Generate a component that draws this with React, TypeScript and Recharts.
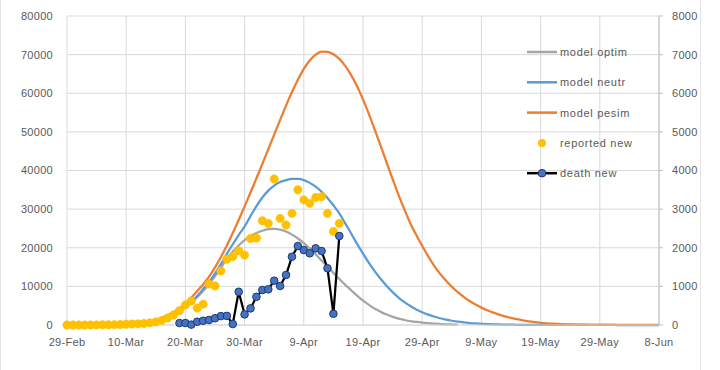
import React from 'react';
import {
  ComposedChart,
  Line,
  XAxis,
  YAxis,
  CartesianGrid
} from 'recharts';

// x axis: days after 29-Feb
const tickDays = [0, 10, 20, 30, 40, 50, 60, 70, 80, 90, 100];
const tickLabels = ['29-Feb', '10-Mar', '20-Mar', '30-Mar', '9-Apr', '19-Apr', '29-Apr', '9-May', '19-May', '29-May', '8-Jun'];

// model curves, one value per day starting 29-Feb
const modelOptim = [
  10, 15, 20, 30, 40, 55, 75, 100, 140, 190, 260, 350, 480, 650, 880,
  1200, 1600, 2100, 2800, 3600, 4600, 5800, 7200, 8800, 10600, 12600, 14800, 17200, 19000, 20600,
  22000, 23000, 23800, 24400, 24800, 24900, 24700, 24200, 23400, 22400, 21200, 19800, 18300, 16700, 15100,
  13500, 11900, 10400, 9000, 7600, 6300, 5200, 4200, 3400, 2700, 2100, 1650, 1300, 1000, 780,
  600, 460, 350, 260, 190, 140, 100
];

const modelNeutr = [
  10, 15, 20, 30, 40, 55, 75, 100, 140, 190, 260, 350, 480, 650, 880,
  1200, 1600, 2100, 2800, 3600, 4700, 6000, 7500, 9300, 11100, 13300, 15800, 18400, 20900, 23300,
  25500, 28200, 30800, 33000, 34800, 36100, 37000, 37500, 37800, 37800, 37500, 36800, 35800, 34500, 32900,
  31000, 28900, 26300, 23700, 21000, 18500, 16100, 13900, 11900, 10100, 8500, 7100, 5900, 4900, 4000,
  3300, 2700, 2200, 1750, 1400, 1100, 850, 660, 510, 390, 300, 230, 175, 130, 100,
  75, 55, 40, 30, 22, 16, 12, 9, 7, 5, 4, 3, 2, 2, 1,
  1, 1, 1, 0, 0, 0, 0, 0, 0, 0, 0
];

const modelPesim = [
  10, 15, 20, 30, 40, 55, 75, 100, 140, 190, 260, 350, 490, 680, 950,
  1300, 1800, 2500, 3300, 4300, 5600, 7100, 8800, 10500, 12500, 14900, 17600, 20600, 23800, 27200,
  30700, 34300, 38000, 41700, 45500, 49300, 53100, 56800, 60300, 63500, 66300, 68500, 70000, 70800, 70700,
  70100, 68900, 67100, 64700, 61800, 58400, 54600, 50500, 46300, 42000, 37800, 33700, 29900, 26300, 23300,
  20500, 17800, 15400, 13300, 11500, 9900, 8500, 7300, 6200, 5300, 4500, 3800, 3200, 2700, 2250,
  1850, 1500, 1200, 950, 750, 580, 450, 350, 270, 200, 150, 110, 80, 60, 45,
  35, 25, 20, 15, 12, 10, 8, 6, 5, 4, 3
];

// reported new cases, 29-Feb .. 15-Apr
const reportedNew = [
  2, 5, 5, 10, 20, 30, 50, 60, 100, 120, 200, 250, 300, 400, 550,
  800, 1200, 1800, 2600, 3700, 5200, 6200, 4400, 5400, 10600, 10100, 14000, 17000, 17700, 19200,
  18100, 22400, 22500, 27000, 26300, 37800, 27600, 25900, 28900, 35000, 32400, 31500, 33000, 33200, 28900,
  24200, 26300
];

// new deaths (right axis), 19-Mar .. 15-Apr
const deathStart = 19;
const deathNew = [
  50, 50, 10, 85, 110, 130, 175, 230, 235, 25, 860, 275, 430, 730,
  906, 924, 1147, 1010, 1295, 1768, 2045, 1940, 1856, 1985, 1916, 1468, 290, 2304
];

const rows = Array.from({ length: 101 }, (_, day) => ({
  day,
  optim: modelOptim[day],
  neutr: modelNeutr[day],
  pesim: modelPesim[day],
  reported: reportedNew[day],
  death: day >= deathStart ? deathNew[day - deathStart] : undefined
}));

const FONT = "'Liberation Sans', Arial, sans-serif";
const TEXT = '#595959';
const GRID = '#d9d9d9';

const legendItems = [
  { name: 'model optim', kind: 'line', color: '#A5A5A5' },
  { name: 'model neutr', kind: 'line', color: '#5B9BD5' },
  { name: 'model pesim', kind: 'line', color: '#ED7D31' },
  { name: 'reported new', kind: 'dot', color: '#FFC000' },
  { name: 'death new', kind: 'marker', color: '#000000' }
];

function ChartLegend() {
  return (
    <svg width={160} height={160}>
      {legendItems.map((item, i) => {
        const y = 12 + i * 30.3;
        return (
          <g key={item.name}>
            {item.kind !== 'dot' && (
              <line x1={7} x2={37} y1={y} y2={y} stroke={item.color} strokeWidth={2.5} />
            )}
            {item.kind === 'dot' && <circle cx={22} cy={y} r={4} fill="#FFC000" />}
            {item.kind === 'marker' && (
              <circle cx={22} cy={y} r={3.8} fill="#4472C4" stroke="#1F3864" strokeWidth={1} />
            )}
            <text
              x={40}
              y={y + 4}
              fontFamily={FONT}
              fontSize={11}
              letterSpacing={0.7}
              fill={TEXT}
            >
              {item.name}
            </text>
          </g>
        );
      })}
    </svg>
  );
}

export default function App() {
  return (
    <div style={{ position: 'absolute', left: 0, top: 0, width: 720, height: 370, background: '#fff' }}>
      <div
        style={{
          position: 'absolute',
          left: 0,
          top: 0,
          width: 701,
          height: 370,
          borderLeft: '1px solid #e3e3e3',
          borderRight: '1px solid #e3e3e3',
          boxSizing: 'border-box'
        }}
      />
      <ComposedChart
        width={720}
        height={370}
        data={rows}
        margin={{ top: 16, right: 11, left: 0, bottom: 15 }}
      >
        <CartesianGrid yAxisId="left" stroke={GRID} strokeWidth={1} />
        <XAxis
          dataKey="day"
          type="number"
          domain={[0, 100]}
          ticks={tickDays}
          tickFormatter={(d: number) => tickLabels[tickDays.indexOf(d)]}
          interval={0}
          height={30}
          tickLine={false}
          tickSize={0}
          tickMargin={13}
          axisLine={{ stroke: GRID }}
          tick={{ fontFamily: FONT, fontSize: 11, fill: TEXT, letterSpacing: 0.3 }}
        />
        <YAxis
          yAxisId="left"
          domain={[0, 80000]}
          ticks={[0, 10000, 20000, 30000, 40000, 50000, 60000, 70000, 80000]}
          width={67}
          axisLine={false}
          tickLine={false}
          tickSize={0}
          tickMargin={14}
          tick={{ fontFamily: FONT, fontSize: 11, fill: TEXT, letterSpacing: 0.3 }}
        />
        <YAxis
          yAxisId="right"
          orientation="right"
          domain={[0, 8000]}
          ticks={[0, 1000, 2000, 3000, 4000, 5000, 6000, 7000, 8000]}
          width={50}
          axisLine={{ stroke: '#bfbfbf' }}
          tickLine={{ stroke: '#bfbfbf' }}
          tickSize={4}
          tickMargin={9}
          tick={{ fontFamily: FONT, fontSize: 11, fill: TEXT, letterSpacing: 0.3, textAnchor: 'start' }}
        />
        <Line
          yAxisId="left"
          dataKey="optim"
          name="model optim"
          type="monotone"
          stroke="#A5A5A5"
          strokeWidth={2.25}
          dot={false}
          activeDot={false}
          isAnimationActive={false}
        />
        <Line
          yAxisId="left"
          dataKey="neutr"
          name="model neutr"
          type="monotone"
          stroke="#5B9BD5"
          strokeWidth={2.25}
          dot={false}
          activeDot={false}
          isAnimationActive={false}
        />
        <Line
          yAxisId="left"
          dataKey="pesim"
          name="model pesim"
          type="monotone"
          stroke="#ED7D31"
          strokeWidth={2.25}
          dot={false}
          activeDot={false}
          isAnimationActive={false}
        />
        <Line
          yAxisId="left"
          dataKey="reported"
          name="reported new"
          stroke="none"
          dot={{ r: 4.2, fill: '#FFC000', stroke: '#FFC000', strokeWidth: 0.5 }}
          activeDot={false}
          isAnimationActive={false}
        />
        <Line
          yAxisId="right"
          dataKey="death"
          name="death new"
          stroke="#000000"
          strokeWidth={2.25}
          dot={{ r: 3.8, fill: '#4472C4', stroke: '#1F3864', strokeWidth: 1 }}
          activeDot={false}
          isAnimationActive={false}
        />
      </ComposedChart>
      <div style={{ position: 'absolute', left: 520, top: 40, width: 160, height: 160 }}>
        <ChartLegend />
      </div>
    </div>
  );
}
